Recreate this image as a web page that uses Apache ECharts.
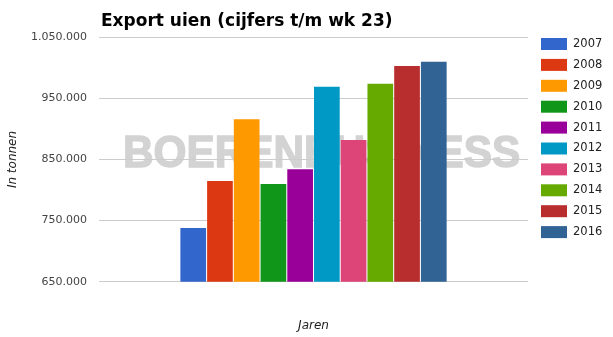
<!DOCTYPE html>
<html><head><meta charset="utf-8">
<script src="https://cdn.jsdelivr.net/npm/echarts@6/dist/echarts.min.js"></script>
<style>html,body{margin:0;padding:0;background:#fff}#c{width:613px;height:337px}</style>
</head><body><div id="c"></div>
<script>
const years = ['2007','2008','2009','2010','2011','2012','2013','2014','2015','2016'];
const values = [738000, 815000, 916000, 810000, 834000, 969000, 882000, 974000, 1003000, 1010000];
const colors = ['#3366cc','#dc3912','#ff9900','#109618','#990099','#0099c6','#dd4477','#66aa00','#b82e2e','#316395'];
const yTicks = {min: 650000, max: 1050000, interval: 100000};

const chart = echarts.init(document.getElementById('c'));
const fmt = v => String(v).replace(/\B(?=(\d{3})+(?!\d))/g, '.');
chart.setOption({
  animation: false,
  color: colors,
  title: {text: 'Export uien (cijfers t/m wk 23)', left: 96, top: 8,
    textStyle: {fontFamily: 'DejaVu Sans', fontWeight: 'bold', fontSize: 17, color: '#000'}},
  legend: {orient: 'vertical', left: 541, top: 38, padding: 0, itemWidth: 26, itemHeight: 12, itemGap: 8.9,
    data: years, icon: 'rect',
    textStyle: {fontFamily: 'DejaVu Sans', fontSize: 11.5, color: '#222', padding: [0,0,0,1]}},
  grid: {left: 99, right: 85, top: 37.3, bottom: 55.3, containLabel: false, outerBoundsMode: 'none'},
  graphic: [{type: 'text', z: -10, x: 123, y: 155, scaleX: 0.94,
    style: {text: 'BOERENBUSINESS', font: 'bold 45px "Liberation Sans"', fill: '#d3d3d3',
      stroke: '#d3d3d3', lineWidth: 1.5, verticalAlign: 'middle'}}],
  xAxis: {type: 'category', data: ['Export'], axisLabel: {show: false}, axisTick: {show: false},
    axisLine: {show: false},
    name: 'Jaren', nameLocation: 'middle', nameGap: 38,
    nameTextStyle: {fontFamily: 'DejaVu Sans', fontStyle: 'italic', fontSize: 12, color: '#222'}},
  yAxis: {type: 'value', min: yTicks.min, max: yTicks.max, interval: yTicks.interval,
    axisLine: {show: false}, axisTick: {show: false},
    splitLine: {lineStyle: {color: '#cccccc'}},
    axisLabel: {formatter: fmt, fontFamily: 'DejaVu Sans', fontSize: 11, color: '#444', margin: 12},
    name: 'In tonnen', nameLocation: 'middle', nameGap: 80, nameRotate: 90,
    nameTextStyle: {fontFamily: 'DejaVu Sans', fontStyle: 'italic', fontSize: 12, color: '#222'}},
  series: years.map((y, i) => ({
    name: y, type: 'bar', data: [values[i]], barWidth: 25.7, barGap: '4%',
    itemStyle: {color: colors[i]}
  }))
});
</script></body></html>
